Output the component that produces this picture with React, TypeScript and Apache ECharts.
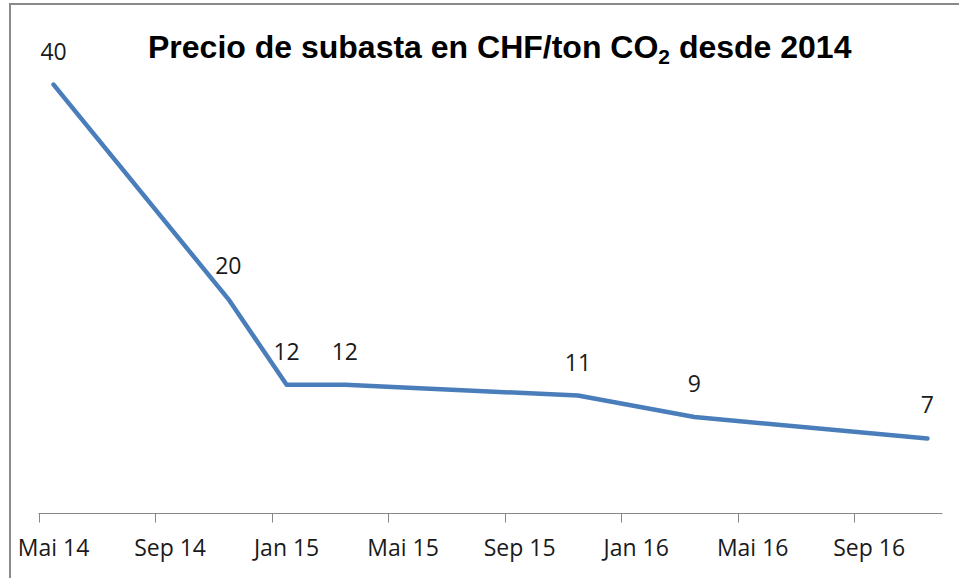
import React, { useEffect, useRef } from "react";
import * as echarts from "echarts";

// Auction months (YYYY-MM) and prices in CHF/ton CO2
const auctionMonths = ["2014-05", "2014-11", "2015-01", "2015-03", "2015-11", "2016-03", "2016-11"];
const prices = [40, 20, 12, 12, 11, 9, 7];

// Axis tick labels (every 4 months starting May 2014)
const tickLabels = ["Mai 14", "Sep 14", "Jan 15", "Mai 15", "Sep 15", "Jan 16", "Mai 16", "Sep 16"];
const axisStartYear = 2014;
const axisStartMonth = 5;
const axisMonths = 31;
const tickStep = 4;

const monthIndex = (s: string) => {
  const [y, m] = s.split("-").map(Number);
  return (y - axisStartYear) * 12 + (m - axisStartMonth);
};

export default function App() {
  const ref = useRef<HTMLDivElement>(null);
  useEffect(() => {
    if (!ref.current) return;
    const chart = echarts.init(ref.current, undefined, { renderer: "svg" });
    const tickValues = tickLabels.map((_, i) => i * tickStep);
    const labelValues = tickLabels.map((_, i) => i * tickStep + 0.5);
    const data = auctionMonths.map((m, i) => [monthIndex(m) + 0.5, prices[i]]);
    const font = "'Open Sans', sans-serif";
    chart.setOption({
      animation: false,
      backgroundColor: "#ffffff",
      title: {
        text: "{m|Precio de subasta en CHF/ton CO}{s|2}{m| desde 2014}",
        left: 143,
        top: 23,
        textStyle: {
          rich: {
            m: { fontFamily: "'Liberation Sans', Arial, sans-serif", fontWeight: "bold", fontSize: 32, color: "#000", lineHeight: 37 },
            s: { fontFamily: "'Liberation Sans', Arial, sans-serif", fontWeight: "bold", fontSize: 21, color: "#000", lineHeight: 21, padding: [20, 0, 0, 0] },
          },
        },
      },
      graphic: [
        {
          type: "rect",
          shape: { x: 10, y: 4, width: 1200, height: 1000 },
          style: { fill: "none", stroke: "#8a8a8a", lineWidth: 2 },
          silent: true,
        },
      ],
      grid: { left: 39, right: 17, top: 31, bottom: 64.5, containLabel: false },
      xAxis: {
        type: "value",
        min: 0,
        max: axisMonths,
        splitLine: { show: false },
        axisLine: { show: true, lineStyle: { color: "#868686", width: 1 } },
        axisTick: { show: true, customValues: tickValues, length: 9, lineStyle: { color: "#868686", width: 1 } },
        axisLabel: {
          customValues: labelValues,
          formatter: (v: number) => tickLabels[Math.round((v - 0.5) / tickStep)] ?? "",
          fontFamily: font,
          fontSize: 23,
          color: "#1a1a1a",
          margin: 22,
        },
      },
      yAxis: {
        type: "value",
        min: 0,
        max: 45,
        show: false,
        splitLine: { show: false },
      },
      series: [
        {
          type: "line",
          data,
          symbol: "circle",
          symbolSize: 1,
          showSymbol: true,
          itemStyle: { color: "#4A7EBB" },
          lineStyle: { color: "#4A7EBB", width: 4.5, cap: "round", join: "round" },
          label: {
            show: true,
            position: "top",
            distance: 22,
            fontFamily: font,
            fontSize: 23,
            color: "#1a1a1a",
          },
        },
      ],
    });
    return () => chart.dispose();
  }, []);
  return <div ref={ref} style={{ position: "fixed", left: 0, top: 0, width: 959, height: 578 }} />;
}
